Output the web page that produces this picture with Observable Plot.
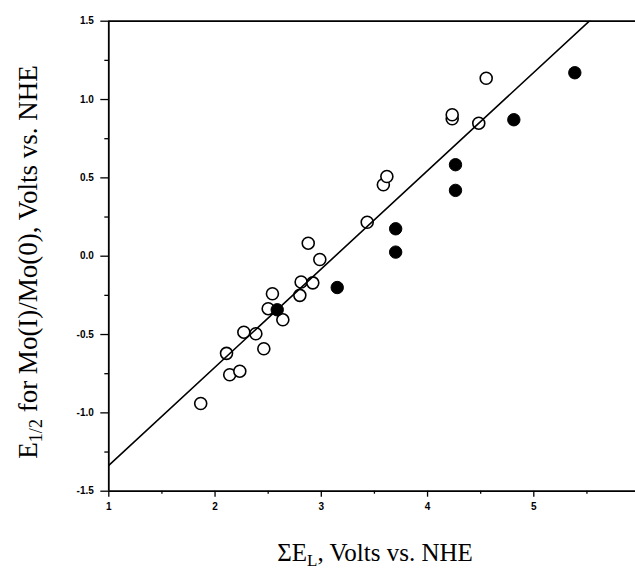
<!DOCTYPE html>
<html>
<head>
<meta charset="utf-8">
<script src="https://cdn.jsdelivr.net/npm/d3@7"></script>
<script src="https://cdn.jsdelivr.net/npm/@observablehq/plot@0.6"></script>
<style>
  html, body { margin: 0; padding: 0; background: #fff; }
  #chart svg { display: block; }
</style>
</head>
<body>
<div id="chart"></div>
<script>
// Open circles (x = ΣEL, y = E1/2)
const openX = [1.865, 2.108, 2.138, 2.233, 2.271, 2.384, 2.459, 2.500, 2.540, 2.638, 2.798, 2.810, 2.877, 2.920, 2.986, 3.432, 3.584, 3.617, 4.232, 4.232, 4.482, 4.552];
const openY = [-0.94, -0.62, -0.757, -0.734, -0.485, -0.495, -0.591, -0.335, -0.24, -0.406, -0.25, -0.165, 0.083, -0.17, -0.021, 0.217, 0.456, 0.509, 0.877, 0.903, 0.849, 1.136];
// Filled circles
const filledX = [2.585, 3.15, 3.70, 3.70, 4.263, 4.263, 4.812, 5.386];
const filledY = [-0.342, -0.20, 0.175, 0.026, 0.584, 0.42, 0.871, 1.171];
// Fitted line parameters
const fitSlope = 0.627;
const fitIntercept = -1.962;
// Axes
const xDomain = [1, 6];
const yDomain = [-1.5, 1.5];
const xTicks = [1, 2, 3, 4, 5];
const xMinor = [1.5, 2.5, 3.5, 4.5, 5.5];
const yTicks = [-1.5, -1.0, -0.5, 0.0, 0.5, 1.0, 1.5];
const yMinor = [-1.25, -0.75, -0.25, 0.25, 0.75, 1.25];
const xLabel = ["ΣE", "L", ", Volts vs. NHE"];
const yLabel = ["E", "1/2", " for Mo(I)/Mo(0), Volts vs. NHE"];

const openData = openX.map((x, i) => ({x, y: openY[i]}));
const filledData = filledX.map((x, i) => ({x, y: filledY[i]}));
const fitData = xDomain.map(x => ({x, y: fitIntercept + fitSlope * x}));

const W = 635, H = 570;
const mLeft = 108.3, mTop = 20.7, yBottom = 490.7;

const plot = Plot.plot({
  width: W,
  height: H,
  marginLeft: mLeft,
  marginTop: mTop,
  marginBottom: H - yBottom,
  marginRight: 0,
  x: {domain: xDomain, range: [mLeft, mLeft + 5 * 106.25]},
  y: {domain: yDomain, range: [yBottom, mTop]},
  style: {fontFamily: "Liberation Sans, Arial, sans-serif", fontSize: "10px", fontWeight: "bold", color: "#000", background: "#fff", overflow: "hidden"},
  marks: [
    Plot.axisX(xTicks, {tickSize: 6, tickPadding: 6, tickFormat: d => String(d), label: null, strokeWidth: 1.3}),
    Plot.axisX(xMinor, {tickSize: 3, tickFormat: () => "", label: null, strokeWidth: 1.3}),
    Plot.axisY(yTicks, {tickSize: 8, tickPadding: 7, tickFormat: d => d.toFixed(1), label: null, strokeWidth: 1.3}),
    Plot.axisY(yMinor, {tickSize: 4, tickFormat: () => "", label: null, strokeWidth: 1.3}),
    Plot.ruleX([xDomain[0]], {stroke: "#000", strokeWidth: 1.8}),
    Plot.ruleY(yDomain, {stroke: "#000", strokeWidth: 1.8}),
    Plot.dot(openData, {x: "x", y: "y", r: 6, fill: "#fff", stroke: "#000", strokeWidth: 1.6}),
    Plot.line(fitData, {x: "x", y: "y", stroke: "#000", strokeWidth: 1.6, clip: true}),
    Plot.dot(filledData, {x: "x", y: "y", r: 6.2, fill: "#000", stroke: "#000", strokeWidth: 1})
  ]
});

document.getElementById("chart").appendChild(plot);

const svg = d3.select(plot);
const serif = "'Liberation Serif', 'Times New Roman', serif";

// X axis label
const xt = svg.append("text")
  .attr("x", 375).attr("y", 561)
  .attr("text-anchor", "middle")
  .attr("font-family", serif).attr("font-size", 25).attr("font-weight", "normal")
  .attr("fill", "#000");
xt.append("tspan").text(xLabel[0]);
xt.append("tspan").attr("font-size", 17).attr("dy", 5).text(xLabel[1]);
xt.append("tspan").attr("dy", -5).text(xLabel[2]);

// Y axis label
const yt = svg.append("text")
  .attr("transform", "translate(37,262) rotate(-90)")
  .attr("text-anchor", "middle")
  .attr("font-family", serif).attr("font-size", 27).attr("font-weight", "normal")
  .attr("fill", "#000");
yt.append("tspan").text(yLabel[0]);
yt.append("tspan").attr("font-size", 18).attr("dy", 5).text(yLabel[1]);
yt.append("tspan").attr("dy", -5).text(yLabel[2]);
</script>
</body>
</html>
